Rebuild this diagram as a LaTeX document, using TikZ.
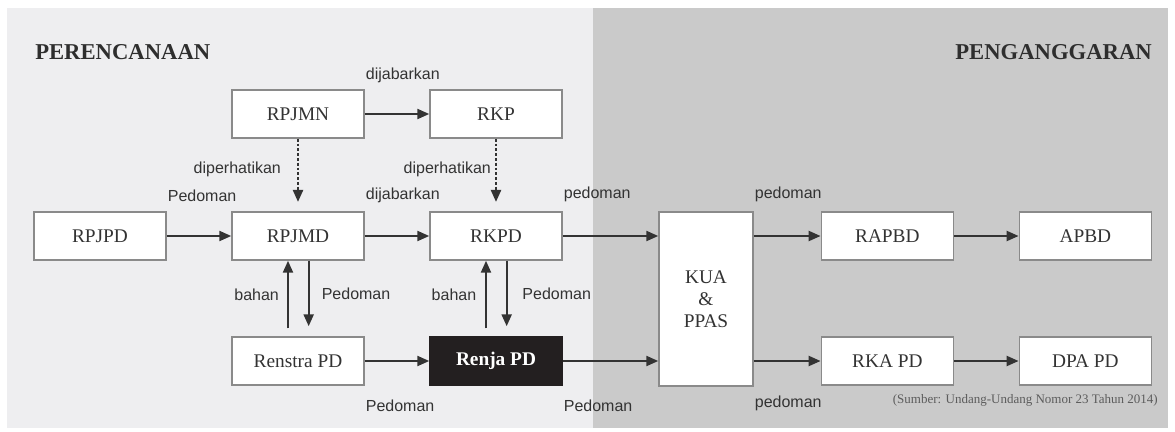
\documentclass[tikz,border=0pt]{standalone}
\usepackage{fontspec}
\setmainfont{Liberation Serif}
\newfontfamily\labelfont{Liberation Sans}
\usetikzlibrary{arrows.meta,positioning}
\definecolor{planbg}{HTML}{EEEEF0}
\definecolor{budgetbg}{HTML}{CACACA}
\definecolor{boxline}{HTML}{8A8A8A}
\definecolor{ink}{HTML}{333333}
\definecolor{renjafill}{HTML}{231F20}

\begin{document}
\begin{tikzpicture}[x=0.75pt,y=-0.75pt,node distance=148.5pt,on grid,>={Triangle[length=9pt,width=7.5pt]}]
    \tikzset{box/.style={draw=boxline,line width=1.1pt,fill=white,minimum width=99pt,minimum height=36pt,inner sep=0pt,text=ink,font=\fontsize{14.5}{16}\selectfont},
      lbl/.style={font=\labelfont\fontsize{12}{14}\selectfont,text=ink,inner sep=0pt},
      arr/.style={->,line width=1.7pt,color=ink},
      dotarr/.style={arr,dash pattern=on 2.2pt off 1.4pt},
      title/.style={font=\bfseries\fontsize{17}{20}\selectfont,text=ink!90!black,inner sep=0pt}}
    \useasboundingbox (0,0) rectangle (1175,432);
    \fill[planbg] (7,8) rectangle (593,428);
    \fill[budgetbg] (593,8) rectangle (1168,428);
    \node[title,anchor=west] (plan) at (35,52) {PERENCANAAN};
    \node[title,anchor=east] (budget) at (1152,52) {PENGANGGARAN};
    % perencanaan
    \node[box] (rpjpd) at (100,236) {RPJPD};
    \node[box] (rpjmd) [right=of rpjpd] {RPJMD};
    \node[box] (rkpd) [right=of rpjmd] {RKPD};
    \node[box] (rpjmn) [above=91.5pt of rpjmd] {RPJMN};
    \node[box] (rkp) [above=91.5pt of rkpd] {RKP};
    \node[box] (renstra) [below=93.75pt of rpjmd] {Renstra PD};
    \node[box,fill=renjafill,draw=renjafill,text=white,font=\bfseries\fontsize{14.5}{16}\selectfont] (renja) [below=93.75pt of rkpd] {Renja PD};
    % penganggaran
    \node[box,minimum width=70.5pt,minimum height=130.5pt,align=center,font=\fontsize{14.5}{16.5}\selectfont] (kua) [below right=47.25pt and 157.5pt of rkpd] {KUA\\ \&\\ PPAS};
    \node[box] (rapbd) [above right=47.25pt and 136pt of kua] {RAPBD};
    \node[box] (apbd) [right=of rapbd] {APBD};
    \node[box] (rkapd) [below=93.75pt of rapbd] {RKA PD};
    \node[box] (dpapd) [right=of rkapd] {DPA PD};
    \path[arr]
    (rpjmn) edge node[lbl,pos=0,anchor=west,yshift=29pt] {dijabarkan} (rkp)
    (rpjpd) edge node[lbl,pos=0,anchor=west,yshift=30.5pt] {Pedoman} (rpjmd)
    (rpjmd) edge node[lbl,pos=0,anchor=west,yshift=30.5pt] {dijabarkan} (rkpd)
    (rkpd.east) edge node[lbl,pos=0,anchor=west,yshift=31pt] {pedoman} (rkpd.east -| kua.west)
    (renstra) edge node[lbl,pos=0,anchor=west,yshift=-33.5pt] {Pedoman} (renja)
    (renja.east) edge node[lbl,pos=0,anchor=west,yshift=-33.5pt] {Pedoman} (renja.east -| kua.west)
    (kua.east |- rapbd) edge node[lbl,pos=0,anchor=west,yshift=31pt] {pedoman} (rapbd)
    (kua.east |- rkapd) edge node[lbl,pos=0,anchor=west,yshift=-32pt] {pedoman} (rkapd)
    (rapbd) edge (apbd)
    (rkapd) edge (dpapd)
    ;
    \draw[dotarr,shorten >=7pt] (rpjmn) -- node[lbl,left=12pt,yshift=4pt] {diperhatikan} (rpjmd);
    \draw[dotarr,shorten >=7pt] (rkp) -- node[lbl,left=3pt,yshift=4pt] {diperhatikan} (rkpd);
    \draw[arr] ([xshift=-7.5pt,yshift=6pt]renstra.north) -- node[lbl,left=6pt] {bahan} ([xshift=-7.5pt]rpjmd.south);
    \draw[arr] ([xshift=8pt]rpjmd.south) -- node[lbl,right=9pt] {Pedoman} ([xshift=8pt,yshift=7.5pt]renstra.north);
    \draw[arr] ([xshift=-7.5pt,yshift=6pt]renja.north) -- node[lbl,left=6.5pt] {bahan} ([xshift=-7.5pt]rkpd.south);
    \draw[arr] ([xshift=8pt]rkpd.south) -- node[lbl,right=11pt] {Pedoman} ([xshift=8pt,yshift=7.5pt]renja.north);
    \node[anchor=east,inner sep=0pt,text=ink!80,font=\fontsize{9.75}{11}\selectfont] (source) at (1158,400) {(Sumber: Undang-Undang Nomor 23 Tahun 2014)};
\end{tikzpicture}
\end{document}
